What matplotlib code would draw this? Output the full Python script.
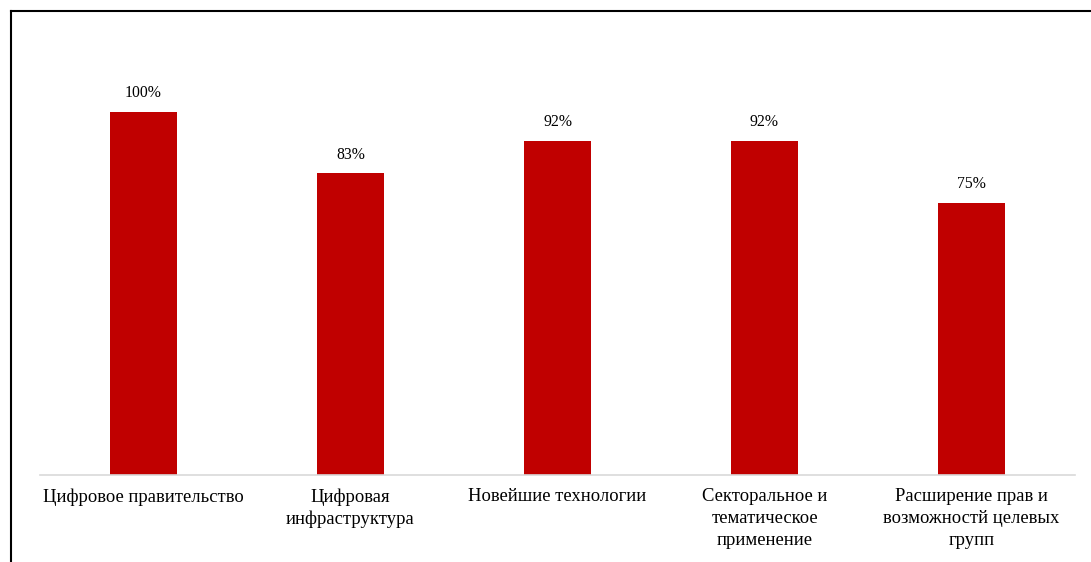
import matplotlib
matplotlib.use("Agg")
import matplotlib.pyplot as plt
from matplotlib.lines import Line2D

categories = ["Цифровое правительство", "Цифровая\nинфраструктура", "Новейшие технологии",
              "Секторальное и\nтематическое\nприменение", "Расширение прав и\nвозможностй целевых\nгрупп"]
values = [100, 83, 92, 92, 75]
value_labels = ["100%", "83%", "92%", "92%", "75%"]

plt.rcParams['font.family'] = ['Liberation Serif', 'DejaVu Serif']

fig = plt.figure(figsize=(10.91, 5.62), dpi=100)
W, H = 1091, 562
ax = fig.add_axes([40 / W, 1 - 475 / H, (1075 - 40) / W, (475 - 39) / H])

x = list(range(len(categories)))
bars = ax.bar(x, values, width=0.32, color="#c00000")
ax.set_xlim(-0.5, len(categories) - 0.5)
ax.set_ylim(0, 120)
for xi, v, lab in zip(x, values, value_labels):
    ax.annotate(lab, (xi, v), xytext=(0, 7.5), textcoords="offset points",
                ha="center", va="bottom", fontsize=11.3)

ax.set_xticks(x)
ax.set_xticklabels(categories, fontsize=13.4, linespacing=1.38, va="top")
ax.tick_params(axis="x", length=0, pad=9.5)
ax.set_yticks([])
for s in ["top", "right", "left"]:
    ax.spines[s].set_visible(False)
ax.spines["bottom"].set_color("#d9d9d9")
ax.spines["bottom"].set_linewidth(1.2)

# outer frame (partially cut)
fig.add_artist(Line2D([10.5 / W, 10.5 / W], [0, 1 - 10.5 / H], transform=fig.transFigure,
                      color="black", linewidth=1.5))
fig.add_artist(Line2D([10.5 / W, 1], [1 - 10.5 / H, 1 - 10.5 / H], transform=fig.transFigure,
                      color="black", linewidth=1.5))

fig.savefig("out.png", dpi=100)
